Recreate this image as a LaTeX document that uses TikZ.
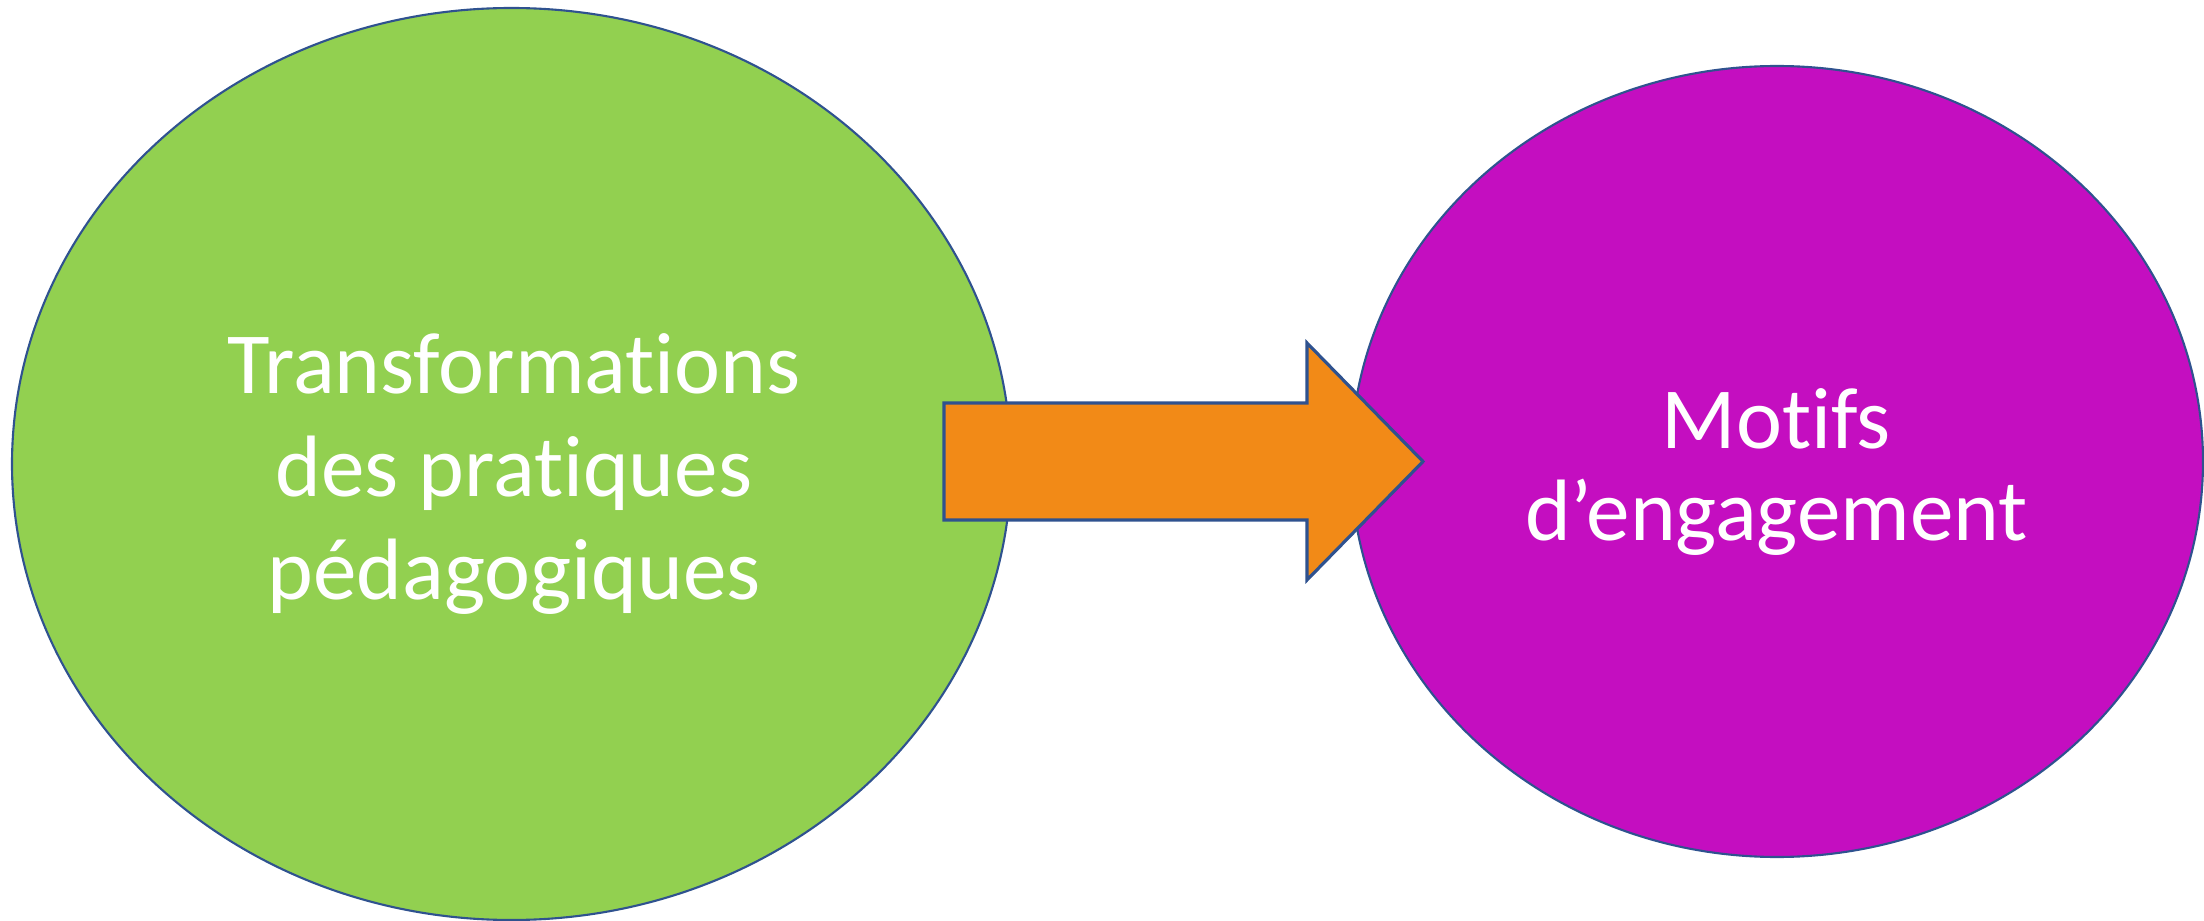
\documentclass[tikz,border=0pt]{standalone}
\usepackage{fontspec}
\setmainfont{Carlito}[Ligatures=NoCommon]
\usetikzlibrary{shapes.geometric}

\definecolor{leafgreen}{HTML}{92D050}
\definecolor{plum}{HTML}{C40EC0}
\definecolor{tangerine}{HTML}{F28A17}
\definecolor{edgeblue}{HTML}{2F528F}

\tikzset{
		bubble/.style={
			ellipse,draw=edgeblue,line width=0.6pt,inner sep=0pt,
			text=white,align=center
		},
		pratiques/.style={bubble,fill=leafgreen,
			minimum width=9.99cm,minimum height=9.12cm},
		motifs/.style={bubble,fill=plum,
			minimum width=8.52cm,minimum height=7.91cm},
		bigtext/.style={text=white,align=center,font=\fontsize{24.8}{#1}\selectfont},
		blockarrow/.style={fill=tangerine,draw=edgeblue,line width=0.9pt,line join=miter}
	}

\begin{document}
\begin{tikzpicture}
				\useasboundingbox (0,0) rectangle (22.04,-9.21);
				\node[pratiques] (trans) at (5.115,-4.64) {};
				\node[motifs] (mot) at (17.77,-4.615) {};
				\node[bigtext=29.3] (transtxt) at (5.14,-4.74)
					{Transformations\\des pratiques\\pédagogiques};
				\node[bigtext=26.2] (mottxt) at (17.765,-4.72)
					{Motifs\\d’engagement};
				% arrow between the two
				\draw[blockarrow] (9.44,-4.03) -- (13.07,-4.03) -- (13.07,-3.43)
					-- (14.23,-4.615) -- (13.07,-5.80) -- (13.07,-5.20)
					-- (9.44,-5.20) -- cycle;
			\end{tikzpicture}
\end{document}
